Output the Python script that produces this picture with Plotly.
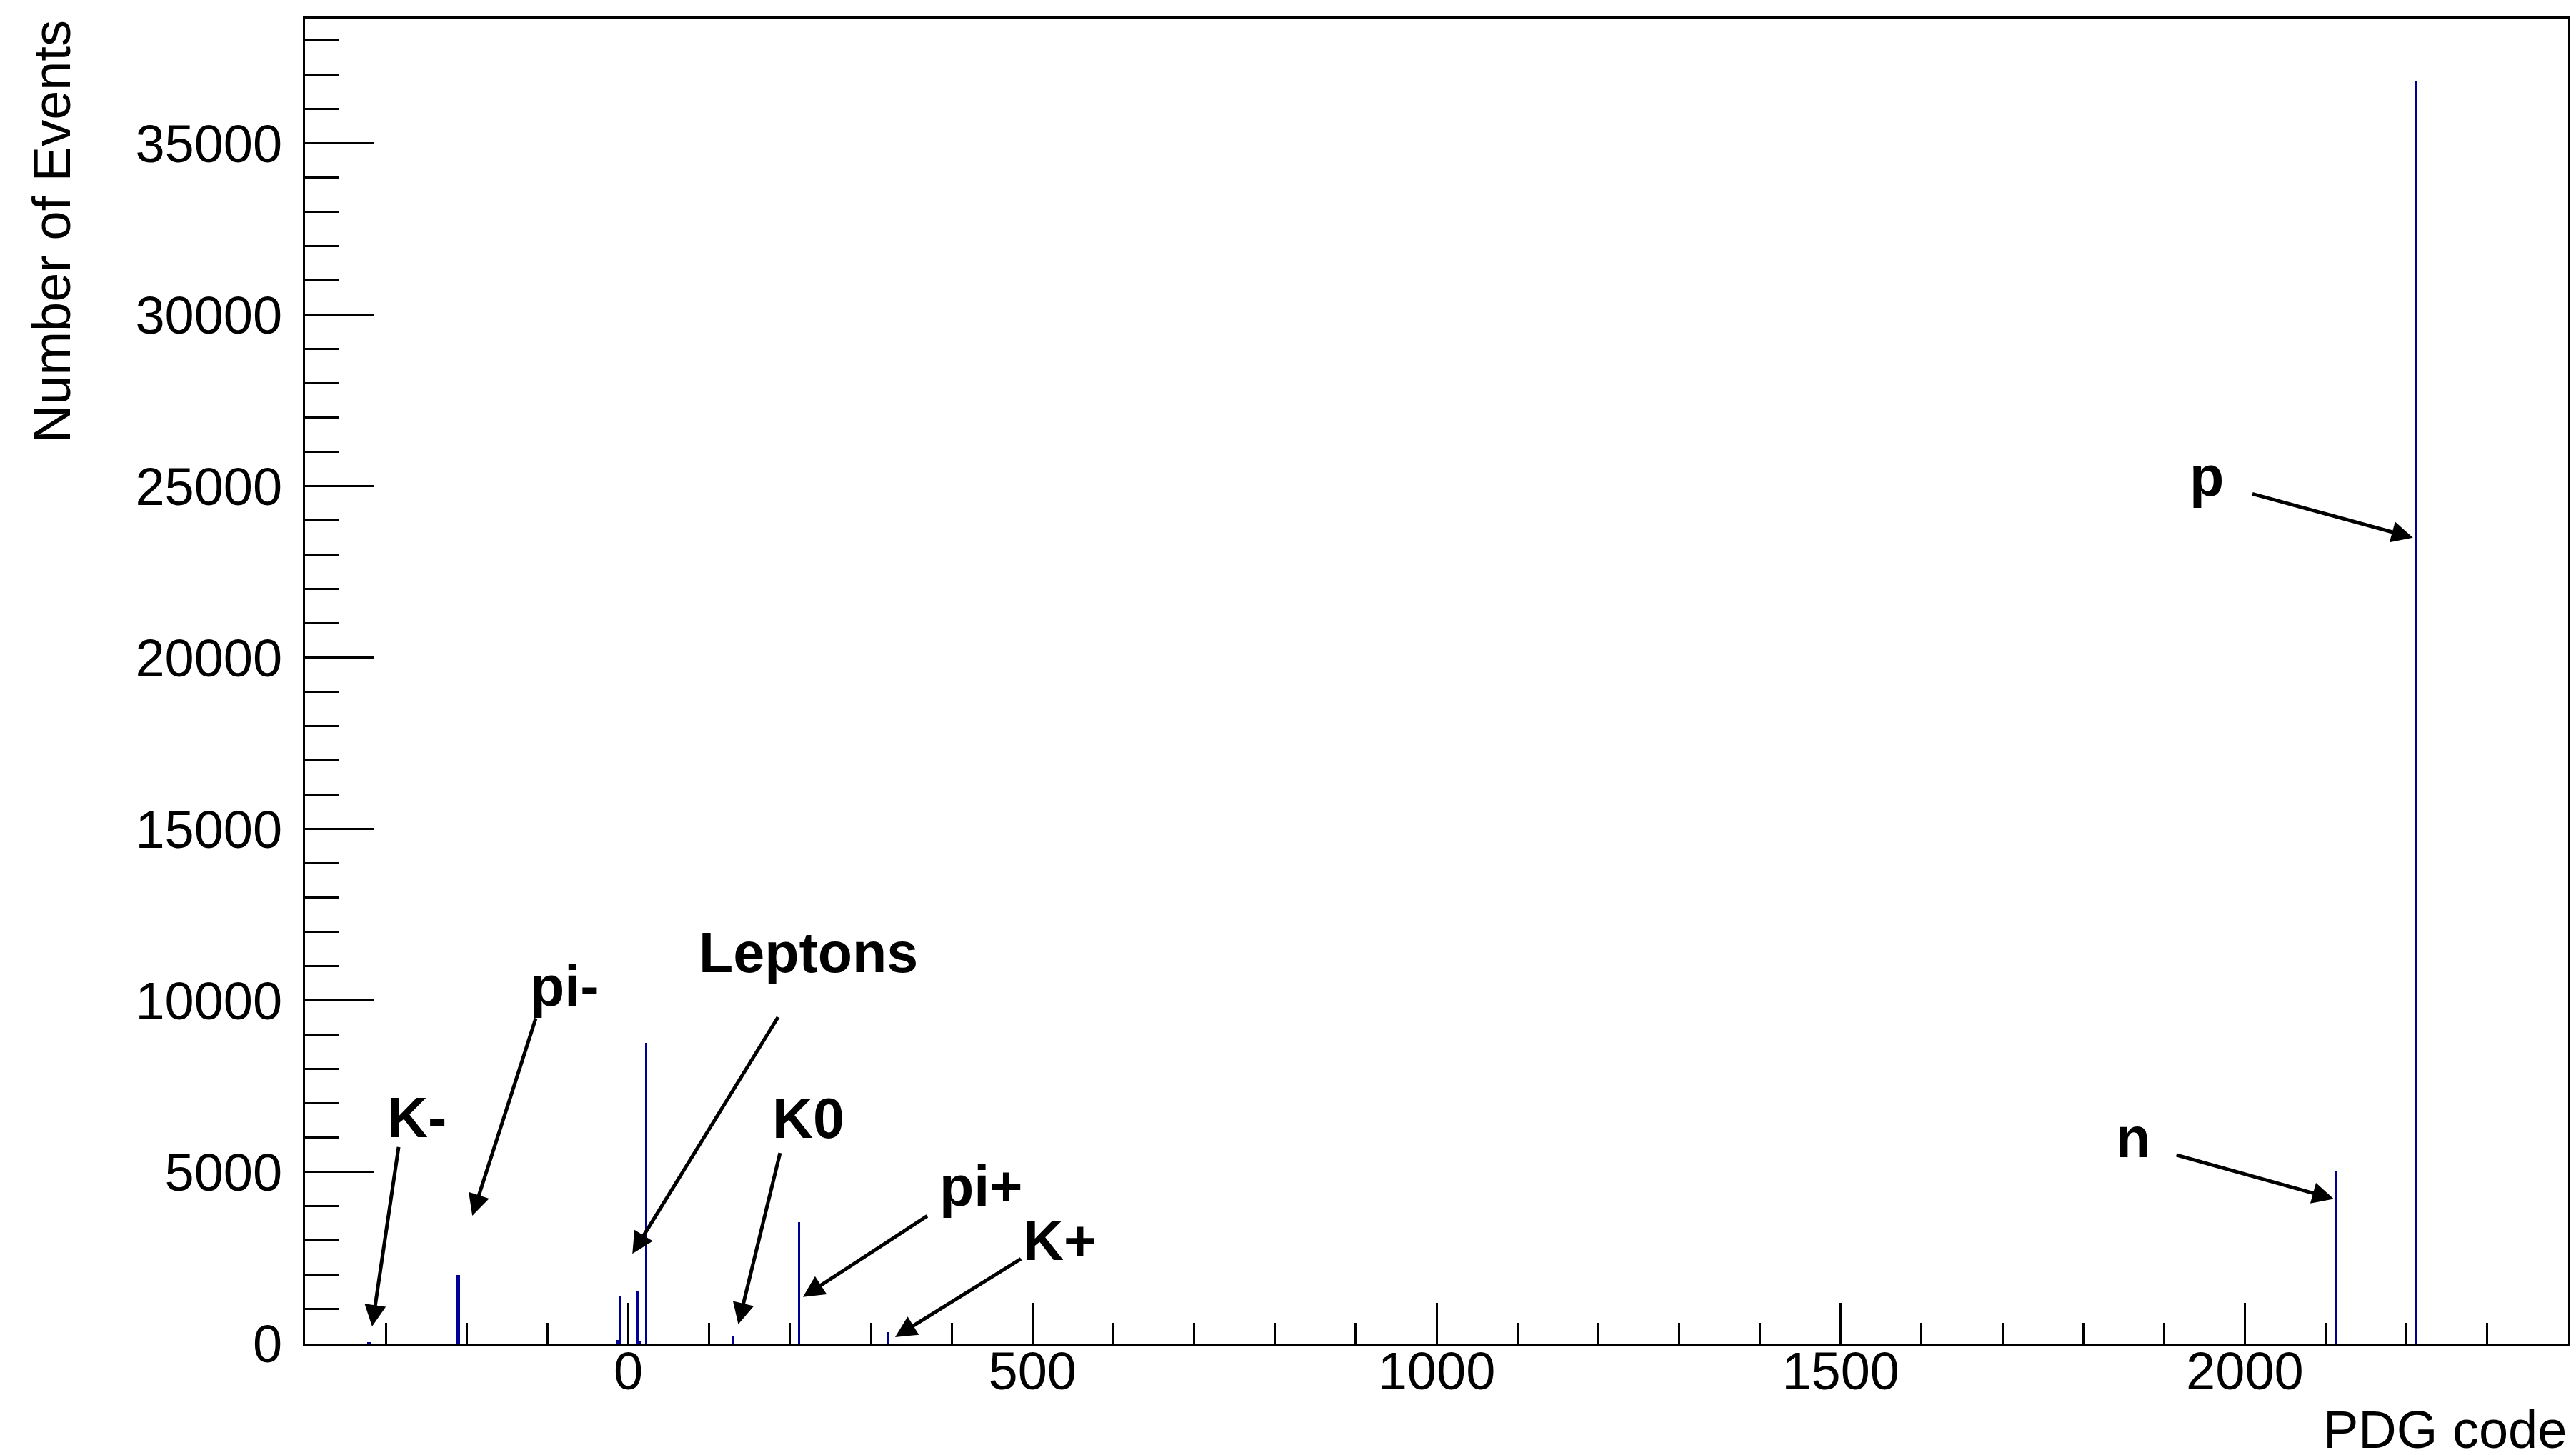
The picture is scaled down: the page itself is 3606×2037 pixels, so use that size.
import plotly.graph_objects as go

# PDG codes of the particles and number of events in each bin
pdg_codes = [-321, -211, -13, -11, 11, 13, 22, 130, 211, 321, 2112, 2212]
n_events = [50, 2000, 100, 1380, 1520, 80, 8760, 200, 3550, 335, 5020, 36800]

# drawn bar widths (in PDG units), kept apart from the data
bar_widths = [5, 5, 4, 2.8, 2.8, 4, 2.8, 2.8, 2.8, 2.8, 2.8, 2.8]

# particle labels: text, text position, arrow tail, arrow tip
labels = ["p", "n", "K+", "pi+", "K0", "Leptons", "pi-", "K-"]
label_xy = [(1953, 25300), (1862, 6000), (534, 3020), (436, 4600),
            (223, 6570), (223, 11410), (-79, 10430), (-262, 6590)]
arrow_tail = [(2008, 24790), (1914, 5510), (487, 2490), (371, 3740),
              (188, 5590), (186, 9550), (-114, 9520), (-284, 5760)]
arrow_tip = [(2208, 23500), (2110, 4220), (330, 190), (216, 1360),
             (136, 560), (5, 2620), (-193, 3730), (-317, 500)]

blue = "#000099"
font = "Liberation Sans, Arial, Helvetica, sans-serif"

fig = go.Figure()
fig.add_trace(go.Bar(
    x=pdg_codes,
    y=n_events,
    width=bar_widths,
    marker=dict(color=blue, line=dict(width=0)),
    showlegend=False,
))

annotations = []
for txt, (tx, ty), (ax, ay), (hx, hy) in zip(labels, label_xy, arrow_tail, arrow_tip):
    annotations.append(dict(
        x=tx, y=ty, xref="x", yref="y", text="<b>%s</b>" % txt,
        showarrow=False, font=dict(family=font, size=79, color="black"),
        xanchor="center", yanchor="middle",
    ))
    annotations.append(dict(
        x=hx, y=hy, ax=ax, ay=ay, xref="x", yref="y", axref="x", ayref="y",
        text="", showarrow=True, arrowhead=2, arrowsize=1.2, arrowwidth=5,
        arrowcolor="black", standoff=0, startstandoff=0,
    ))

# axis titles, ROOT style (aligned to the axis ends)
annotations.append(dict(
    x=1.0, y=-0.0884, xref="paper", yref="paper", text="PDG code",
    showarrow=False, xanchor="right", yanchor="bottom",
    font=dict(family=font, size=74, color="black"),
))
annotations.append(dict(
    x=-0.112, y=1.0, xref="paper", yref="paper", text="Number of Events",
    showarrow=False, xanchor="center", yanchor="top", textangle=-90,
    font=dict(family=font, size=74, color="black"),
))

fig.update_layout(
    width=3606, height=2037,
    margin=dict(l=419, r=19, t=18, b=164),
    paper_bgcolor="white", plot_bgcolor="white",
    bargap=0,
    annotations=annotations,
    font=dict(family=font, size=74, color="black"),
)

fig.update_xaxes(
    range=[-400, 2400], showgrid=False, zeroline=False,
    showline=True, linecolor="black", linewidth=3, mirror=True,
    ticks="inside", ticklen=57, tickwidth=3, tickcolor="black",
    tick0=0, dtick=500, ticklabelstandoff=-28, tickformat="d",
    minor=dict(ticks="inside", ticklen=29, tickwidth=3, tickcolor="black",
               tick0=0, dtick=100, showgrid=False),
    tickfont=dict(family=font, size=74, color="black"),
)
fig.update_yaxes(
    range=[0, 38640], showgrid=False, zeroline=False,
    showline=True, linecolor="black", linewidth=3, mirror=True,
    ticks="inside", ticklen=97, tickwidth=3, tickcolor="black",
    tick0=0, dtick=5000, ticklabelstandoff=14, tickformat="d",
    minor=dict(ticks="inside", ticklen=48, tickwidth=3, tickcolor="black",
               tick0=0, dtick=1000, showgrid=False),
    tickfont=dict(family=font, size=74, color="black"),
)

fig.write_html("out.html")
